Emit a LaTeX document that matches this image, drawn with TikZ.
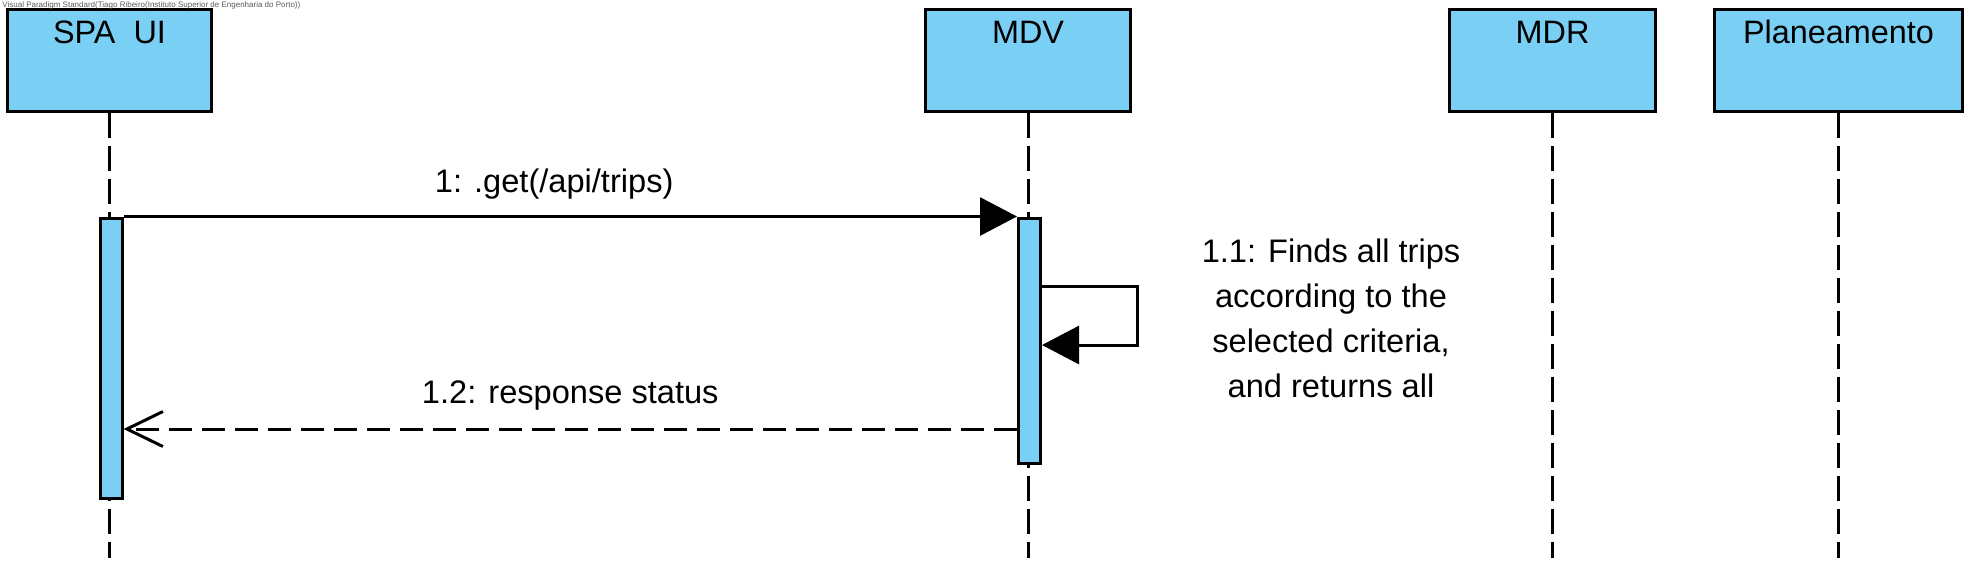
\documentclass[tikz,border=0pt]{standalone}
\usepackage{fontspec}
\setmainfont{Liberation Sans}
\usepackage{tikz}
\usetikzlibrary{arrows.meta}
\usetikzlibrary{positioning,calc}
\definecolor{vpblue}{RGB}{122,207,245}

\begin{document}
\begin{tikzpicture}[
x=0.5pt, y=-0.5pt,
LifeHead/.style={draw=black,fill=vpblue,line width=1.5pt,anchor=north,inner ysep=0pt,
  text height=17.25pt,text depth=33.75pt,font=\fontsize{16.2}{18.5}\selectfont},
Activation/.style={draw=black,fill=vpblue,line width=1.5pt,anchor=north,inner sep=0pt,minimum width=11pt},
LifeLine/.style={line width=1.5pt,dash pattern=on 12.5pt off 4pt},
Call/.style={line width=1.5pt,-{Triangle[length=18.5pt,width=19pt]}},
Reply/.style={line width=1.5pt,dash pattern=on 11.5pt off 5pt,-{Straight Barb[length=18pt,width=17.5pt]}},
MsgText/.style={font=\fontsize{16.3}{22.5}\selectfont,anchor=base,inner sep=0pt}
]
\useasboundingbox (0,0) rectangle (1977,570);

% heads of the lifelines
\node[LifeHead, minimum width=102pt] (spa) at (109.5,7.5) {SPA\ \ UI};
\node[LifeHead, minimum width=102.5pt] (mdv) at (1028,7.5) {MDV};
\node[LifeHead, minimum width=103pt] (mdr) at (1552.5,7.5) {MDR};
\node[LifeHead, minimum width=124pt] (plan) at (1838.5,7.5) {Planeamento};

\coordinate (bottom) at (0,558);
\foreach \n in {spa,mdv,mdr,plan}
  \draw[LifeLine] (\n.south) -- (\n.south |- bottom);

% activations
\node[Activation, minimum height=140.25pt] (spaact) at (111,216.5) {};
\node[Activation, minimum height=122.5pt] (mdvact) at (1029.5,216.5) {};

% messages
\draw[Call] (spaact.north east) -- (mdvact.north west)
  node[MsgText, pos=0.482, yshift=12pt] {1: .get(/api/trips)};

\coordinate (selfout) at (1137,286);
\coordinate (selfin) at (1137,345);
\draw[Call] (mdvact.east |- selfout) -- (selfout) -- (selfin) -- (mdvact.east |- selfin);
\node[MsgText, anchor=north, align=center] (selfnote) at (1331,238)
  {1.1: Finds all trips\\according to the\\selected criteria,\\and returns all};

\coordinate (replyY) at (0,429);
\draw[Reply] (mdvact.west |- replyY) -- (spaact.east |- replyY)
  node[MsgText, midway, yshift=13pt] {1.2: response status};

\node[anchor=north west, inner sep=0pt, font=\fontsize{4}{4.5}\selectfont, text=black!65] (stamp) at (2,1)
  {Visual Paradigm Standard(Tiago Ribeiro(Instituto Superior de Engenharia do Porto))};
\end{tikzpicture}
\end{document}
